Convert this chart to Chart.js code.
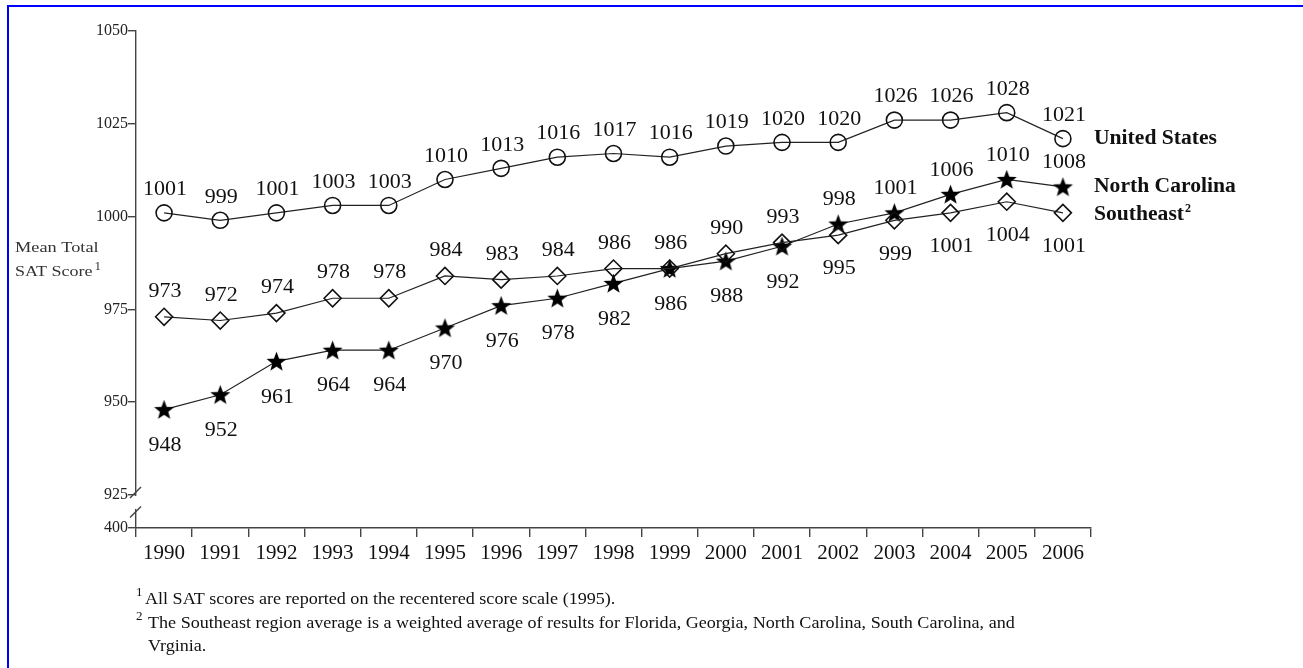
<!DOCTYPE html>
<html>
<head>
<meta charset="utf-8">
<script src="https://cdn.jsdelivr.net/npm/chart.js@4.4.1/dist/chart.umd.min.js"></script>
<style>
  html, body { margin: 0; padding: 0; background: #fff; }
  #wrap { position: relative; width: 1303px; height: 668px; }
</style>
</head>
<body>
<div id="wrap"><canvas id="sat-chart" width="1303" height="668"></canvas></div>
<script>
// SAT scores by year
const years = ['1990', '1991', '1992', '1993', '1994', '1995', '1996', '1997', '1998',
  '1999', '2000', '2001', '2002', '2003', '2004', '2005', '2006'];
const unitedStates = [1001, 999, 1001, 1003, 1003, 1010, 1013, 1016, 1017, 1016, 1019, 1020, 1020, 1026, 1026, 1028, 1021];
const northCarolina = [948, 952, 961, 964, 964, 970, 976, 978, 982, 986, 988, 992, 998, 1001, 1006, 1010, 1008];
const southeast = [973, 972, 974, 978, 978, 984, 983, 984, 986, 986, 990, 993, 995, 999, 1001, 1004, 1001];

const yTickValues = [925, 950, 975, 1000, 1025, 1050];
const brokenAxisLabel = '400'; // bottom of the broken axis
const seriesNames = ['United States', 'North Carolina', 'Southeast'];
const seriesSup = ['', '', '2'];
const yTitle = ['Mean Total', 'SAT Score'];
const footnotes = [
  ['1', 'All SAT scores are reported on the recentered score scale (1995).'],
  ['2', 'The Southeast region average is a weighted average of results for Florida, Georgia, North Carolina, South Carolina, and'],
  ['', 'Vrginia.']
];

const Y_MIN = 916.1;   // value that sits at the axis bottom (shown as 400)
const SWAP_INDEX = 12; // from 2002 on NC labels go above, Southeast below
const SERIF = '"Liberation Serif", "Times New Roman", serif';
const INK = '#111';
const AXIS = '#444';

// filled star used as point style for North Carolina
function makeStar(outer, inner) {
  const size = Math.ceil(outer * 2 + 2);
  const c = document.createElement('canvas');
  c.width = size; c.height = size;
  const g = c.getContext('2d');
  const cx = size / 2, cy = size / 2 + 0.8;
  g.beginPath();
  for (let i = 0; i < 10; i++) {
    const r = i % 2 === 0 ? outer : inner;
    const a = -Math.PI / 2 + i * Math.PI / 5;
    g.lineTo(cx + r * Math.cos(a), cy + r * Math.sin(a));
  }
  g.closePath();
  g.fillStyle = '#000';
  g.fill();
  return c;
}
const starImg = makeStar(10.5, 4.4);

// text in the source looks a bit wider than the font, so stretch it sideways
function wideText(ctx, text, x, y, sx, align) {
  ctx.save();
  ctx.translate(x, y);
  ctx.scale(sx, 1);
  ctx.textAlign = align || 'left';
  ctx.fillText(text, 0, 0);
  const w = ctx.measureText(text).width * sx;
  ctx.restore();
  return w;
}

const overlayPlugin = {
  id: 'overlay',
  afterDatasetsDraw(chart) {
    const { ctx, chartArea } = chart;

    // value labels
    ctx.save();
    ctx.font = '20px ' + SERIF;
    ctx.fillStyle = INK;
    ctx.textBaseline = 'middle';
    chart.data.datasets.forEach((ds, d) => {
      const meta = chart.getDatasetMeta(d);
      meta.data.forEach((pt, i) => {
        let dy;
        if (ds.key === 'us') dy = -23;
        else if (ds.key === 'se') dy = i < SWAP_INDEX ? -25 : 34;
        else dy = i < SWAP_INDEX ? 36 : -24;
        wideText(ctx, String(ds.data[i]), pt.x + 1, pt.y + dy, 1.1, 'center');
      });
    });
    ctx.restore();

    // series names at the right end of each line
    ctx.save();
    ctx.textBaseline = 'middle';
    ctx.fillStyle = INK;
    chart.data.datasets.forEach((ds, d) => {
      const meta = chart.getDatasetMeta(d);
      const last = meta.data[meta.data.length - 1];
      const idx = seriesNames.indexOf(ds.label);
      const x = chartArea.right + 3;
      const yy = last.y + (ds.key === 'se' ? 2 : 0);
      ctx.font = 'bold 20px ' + SERIF;
      const w = wideText(ctx, ds.label, x, yy, 1.08);
      if (seriesSup[idx]) {
        ctx.font = 'bold 12px ' + SERIF;
        ctx.fillText(seriesSup[idx], x + w + 1, yy - 6);
      }
    });
    ctx.restore();
  },
  afterDraw(chart) {
    const { ctx, chartArea, scales } = chart;
    const { y } = scales;
    const ax = chartArea.left;

    // axis break marks
    const y925 = y.getPixelForValue(925);
    const yBottom = y.getPixelForValue(Y_MIN);
    ctx.save();
    ctx.fillStyle = '#fff';
    ctx.fillRect(ax - 2, y925 + 1, 4, 13);
    ctx.strokeStyle = AXIS;
    ctx.lineWidth = 1.4;
    [y925 - 3, (y925 + yBottom) / 2].forEach(cy => {
      ctx.beginPath();
      ctx.moveTo(ax - 6, cy + 6);
      ctx.lineTo(ax + 5, cy - 5);
      ctx.stroke();
    });
    ctx.restore();

    // y axis title
    ctx.save();
    ctx.fillStyle = '#333';
    ctx.textBaseline = 'middle';
    ctx.font = '15px ' + SERIF;
    wideText(ctx, yTitle[0], 15, 248, 1.22);
    const tw = wideText(ctx, yTitle[1], 15, 272, 1.2);
    ctx.font = '13px ' + SERIF;
    ctx.fillText('1', 15 + tw + 2, 267);
    ctx.restore();

    // footnotes
    ctx.save();
    ctx.fillStyle = INK;
    ctx.textBaseline = 'middle';
    const footY = [600, 624, 647];
    footnotes.forEach(([sup, text], i) => {
      if (sup) {
        ctx.font = '13px ' + SERIF;
        ctx.fillText(sup, 136, footY[i] - 7);
      }
      ctx.font = '16px ' + SERIF;
      wideText(ctx, text, i === 0 ? 145 : 148, footY[i], 1.13);
    });
    ctx.restore();

    // blue frame
    ctx.save();
    ctx.fillStyle = '#0000ff';
    ctx.fillRect(7, 5, 1296, 2);
    ctx.fillRect(7, 5, 2, 663);
    ctx.restore();
  }
};

const pointBase = {
  fill: false,
  borderColor: '#222',
  borderWidth: 1.2,
  tension: 0,
  pointBorderColor: '#111',
  pointBackgroundColor: 'rgba(0,0,0,0)',
  pointBorderWidth: 1.6
};

new Chart(document.getElementById('sat-chart'), {
  type: 'line',
  data: {
    labels: years,
    datasets: [
      { ...pointBase, key: 'se', label: seriesNames[2], data: southeast, pointStyle: 'rectRot', pointRadius: 8.5 },
      { ...pointBase, key: 'nc', label: seriesNames[1], data: northCarolina, pointStyle: starImg, pointRadius: 10 },
      { ...pointBase, key: 'us', label: seriesNames[0], data: unitedStates, pointStyle: 'circle', pointRadius: 8 }
    ]
  },
  options: {
    responsive: false,
    animation: false,
    events: [],
    layout: { padding: { left: 0, top: 31, right: 212, bottom: 0 } },
    scales: {
      x: {
        type: 'category',
        offset: true,
        grid: { offset: true, drawOnChartArea: false, drawTicks: true, tickLength: 9, color: AXIS, lineWidth: 1.4 },
        border: { color: AXIS, width: 1.4 },
        ticks: { font: { family: SERIF, size: 21 }, color: INK, padding: 4, maxRotation: 0, autoSkip: false },
        afterFit(s) { s.height = 140; }
      },
      y: {
        min: Y_MIN,
        max: 1050,
        afterBuildTicks(s) { s.ticks = [Y_MIN, ...yTickValues].map(v => ({ value: v })); },
        grid: { drawOnChartArea: false, drawTicks: true, tickLength: 8, color: AXIS, lineWidth: 1.4 },
        border: { color: AXIS, width: 1.4 },
        ticks: {
          font: { family: SERIF, size: 16 },
          color: '#222',
          padding: 0,
          callback: v => (v === Y_MIN ? brokenAxisLabel : String(v))
        },
        afterFit(s) { s.width = 136; }
      }
    },
    plugins: {
      legend: { display: false },
      tooltip: { enabled: false }
    }
  },
  plugins: [overlayPlugin]
});
</script>
</body>
</html>
